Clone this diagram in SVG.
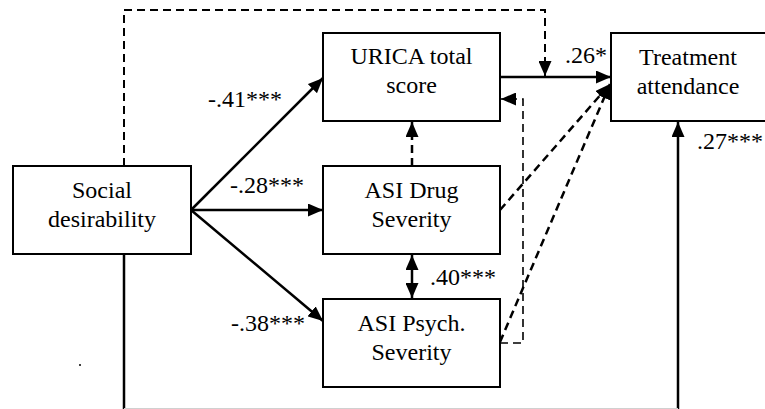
<svg xmlns="http://www.w3.org/2000/svg" width="765" height="409" viewBox="0 0 765 409">
<style>
.box{fill:#fff;stroke:#000;stroke-width:2}
.t{font-family:'Liberation Serif','Times New Roman',serif;font-size:24px;fill:#000}
.c{text-anchor:middle}
.s{fill:none;stroke:#000;stroke-width:2.5}
.d{fill:none;stroke:#000;stroke-width:2;stroke-dasharray:8 5}
.dt{stroke-width:1.6}
.dk{stroke-width:2.5}
</style>
<defs>
<marker id="ah" markerUnits="userSpaceOnUse" markerWidth="15" markerHeight="13" refX="15" refY="6.5" orient="auto-start-reverse" viewBox="0 0 15 13">
<path d="M0,0 L15,6.5 L0,13 z" fill="#000"/>
</marker>
</defs>
<rect width="765" height="409" fill="#fff"/>
<g id="connectors">
<path class="d" d="M124,166 V10 H545 V76" marker-end="url(#ah)"/>
<line class="s" x1="191" y1="210" x2="323" y2="78" marker-end="url(#ah)"/>
<line class="s" x1="191" y1="210" x2="323" y2="210" marker-end="url(#ah)"/>
<line class="s" x1="191" y1="210" x2="323" y2="321" marker-end="url(#ah)"/>
<line class="s" x1="500" y1="77" x2="611" y2="77" marker-end="url(#ah)"/>
<line class="d dk" x1="412" y1="166" x2="412" y2="122" marker-end="url(#ah)"/>
<line class="s" x1="412" y1="255" x2="412" y2="298" marker-start="url(#ah)" marker-end="url(#ah)"/>
<path class="d dt" d="M500,343 H523 V99 H501" marker-end="url(#ah)"/>
<line class="d dk" x1="500" y1="210" x2="610" y2="84" marker-end="url(#ah)"/>
<line class="d dk" x1="500" y1="342" x2="610" y2="84" marker-end="url(#ah)"/>
<path class="s" d="M124,254 V410 H678 V122" marker-end="url(#ah)"/>
<line x1="124" y1="408.5" x2="678" y2="408.5" stroke="#d0d0d0" stroke-width="1"/>
<text class="t" x="208" y="107">-.41***</text>
<text class="t" x="230" y="193">-.28***</text>
<text class="t" x="231" y="331">-.38***</text>
<text class="t" x="565" y="63">.26*</text>
<text class="t" x="430" y="285">.40***</text>
<text class="t" x="697" y="149">.27***</text>
</g>
<g id="social">
<rect class="box" x="13" y="166" width="178" height="88"/>
<text class="t c" x="102" y="198">Social</text>
<text class="t c" x="102" y="227">desirability</text>
</g>
<g id="urica">
<rect class="box" x="323" y="33" width="177" height="88"/>
<text class="t c" x="411.5" y="64">URICA total</text>
<text class="t c" x="411.5" y="93">score</text>
</g>
<g id="asidrug">
<rect class="box" x="323" y="166" width="177" height="88"/>
<text class="t c" x="411.5" y="198">ASI Drug</text>
<text class="t c" x="411.5" y="227">Severity</text>
</g>
<g id="asipsych">
<rect class="box" x="323" y="299" width="177" height="88"/>
<text class="t c" x="411.5" y="331">ASI Psych.</text>
<text class="t c" x="411.5" y="360">Severity</text>
</g>
<g id="treatment">
<rect class="box" x="611" y="33" width="160" height="88"/>
<text class="t c" x="688" y="65">Treatment</text>
<text class="t c" x="688" y="94">attendance</text>
</g>
<circle cx="80" cy="365" r="1" fill="#000"/>
</svg>
